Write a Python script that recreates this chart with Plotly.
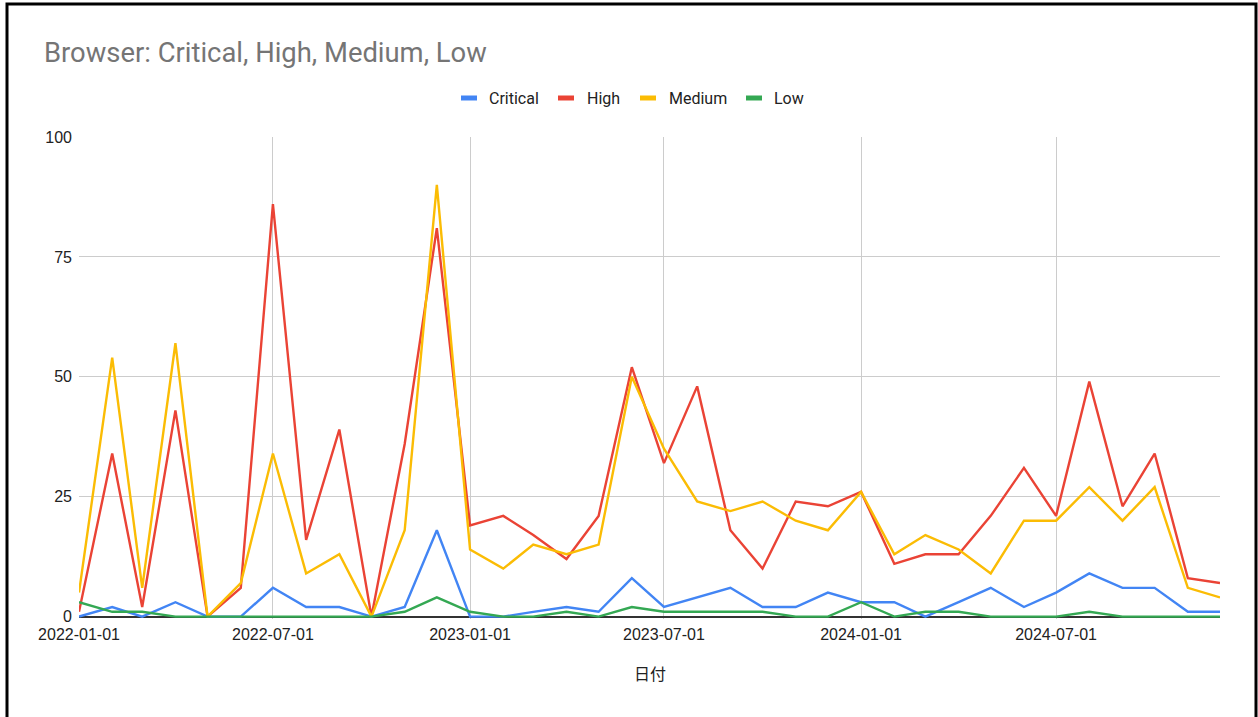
import pandas as pd
import plotly.graph_objects as go

# Monthly counts of browser vulnerabilities by severity
months = pd.date_range("2022-01-01", "2024-12-01", freq="MS")

critical = [0, 2, 0, 3, 0, 0, 6, 2, 2, 0, 2, 18,
            0, 0, 1, 2, 1, 8, 2, 4, 6, 2, 2, 5,
            3, 3, 0, 3, 6, 2, 5, 9, 6, 6, 1, 1]
high = [1, 34, 2, 43, 0, 6, 86, 16, 39, 0, 36, 81,
        19, 21, 17, 12, 21, 52, 32, 48, 18, 10, 24, 23,
        26, 11, 13, 13, 21, 31, 21, 49, 23, 34, 8, 7]
medium = [5, 54, 6, 57, 0, 7, 34, 9, 13, 0, 18, 90,
          14, 10, 15, 13, 15, 50, 35, 24, 22, 24, 20, 18,
          26, 13, 17, 14, 9, 20, 20, 27, 20, 27, 6, 4]
low = [3, 1, 1, 0, 0, 0, 0, 0, 0, 0, 1, 4,
       1, 0, 0, 1, 0, 2, 1, 1, 1, 1, 0, 0,
       3, 0, 1, 1, 0, 0, 0, 1, 0, 0, 0, 0]

series_names = ["Critical", "High", "Medium", "Low"]
series_values = [critical, high, medium, low]
series_colors = ["#4285F4", "#EA4335", "#FBBC04", "#34A853"]

y_ticks = [0, 25, 50, 75, 100]

W, H = 1258, 717
L, R, T, B = 79, 38, 137, 98
PW, PH = W - L - R, H - T - B
Y_MIN, Y_MAX = -0.5, 100


def px_x(px):
    return (px - L) / PW


def px_y(py):
    # pixel row -> paper y
    return (H - B - py) / PH


fig = go.Figure()
for name, vals, color in zip(series_names, series_values, series_colors):
    fig.add_trace(go.Scatter(
        x=months, y=vals, name=name, mode="lines",
        line=dict(color=color, width=2.4), showlegend=False,
    ))

tick_font = dict(family="Liberation Sans, Arial", size=16, color="#222222")

fig.update_layout(
    width=W, height=H,
    margin=dict(l=L, r=R, t=T, b=B),
    paper_bgcolor="white", plot_bgcolor="white",
    title=dict(
        text="Browser: Critical, High, Medium, Low",
        x=44 / W, xref="container", xanchor="left",
        y=1 - 52 / H, yref="container", yanchor="middle",
        font=dict(family="Roboto", size=27.4, color="#757575"),
    ),
    xaxis=dict(
        range=[months[0], months[-1]],
        tick0="2022-01-01", dtick="M6", tickformat="%Y-%m-%d",
        showgrid=True, gridcolor="#cccccc", gridwidth=1,
        showline=False, zeroline=False, ticks="",
        tickfont=tick_font, ticklabelstandoff=4,
    ),
    yaxis=dict(
        range=[Y_MIN, Y_MAX], tickvals=y_ticks,
        showgrid=True, gridcolor="#cccccc", gridwidth=1,
        zeroline=True, zerolinecolor="#333333", zerolinewidth=1.5,
        showline=False, ticks="",
        tickfont=tick_font, ticklabelstandoff=6,
    ),
    hovermode=False,
)

# x-axis title
fig.add_annotation(
    text="日付", xref="paper", yref="paper",
    x=0.5, y=px_y(673), xanchor="center", yanchor="middle",
    showarrow=False,
    font=dict(family="Noto Sans CJK JP", size=16, color="#222222"),
)

# legend row: colored swatch followed by its label
legend_swatch_x = [461, 558, 640, 746]
legend_text_x = [487, 585, 667, 772]
legend_y = 98
for name, color, sx, tx in zip(series_names, series_colors, legend_swatch_x, legend_text_x):
    fig.add_shape(
        type="rect", xref="paper", yref="paper",
        x0=px_x(sx), x1=px_x(sx + 16),
        y0=px_y(legend_y + 2.5), y1=px_y(legend_y - 2.5),
        fillcolor=color, line=dict(width=0),
    )
    fig.add_annotation(
        text=name, xref="paper", yref="paper",
        x=px_x(tx), y=px_y(legend_y), xanchor="left", yanchor="middle",
        showarrow=False,
        font=dict(family="Roboto", size=16, color="#222222"),
    )

# outer frame
fig.add_shape(
    type="rect", xref="paper", yref="paper",
    x0=px_x(7), x1=px_x(1256), y0=px_y(725), y1=px_y(4),
    line=dict(color="black", width=3), fillcolor="rgba(0,0,0,0)",
    layer="above",
)

fig.write_html("out.html")
